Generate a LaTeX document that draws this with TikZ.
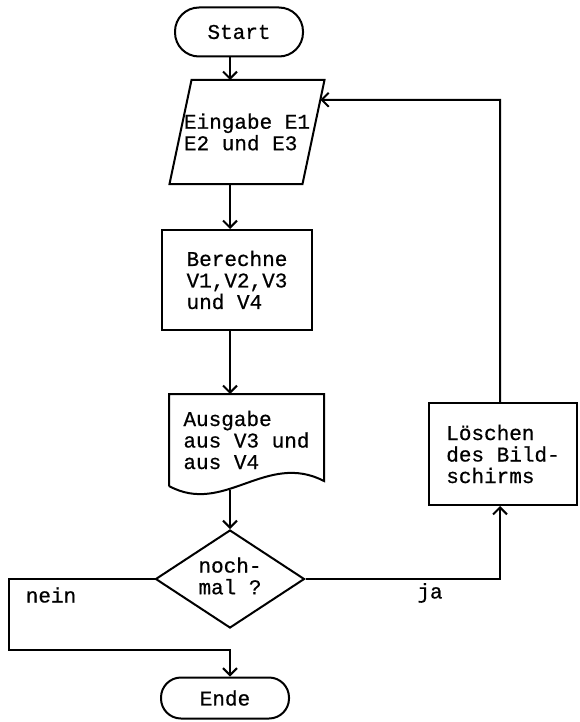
\documentclass[tikz,border=0pt]{standalone}
\usepackage{fontspec}
\setmonofont{Liberation Mono}[FakeBold=0.6]
\newcommand{\flowfont}{\ttfamily\fontsize{21}{21.5}\selectfont}
\usetikzlibrary{calc, shapes.geometric, arrows.meta}

\begin{document}
\begin{tikzpicture}[x=1pt, y=-1pt, line width=2pt, >={Straight Barb[length=7pt,width=14pt]}]
	\tikzset{term/.style={draw=black, rounded corners=#1, minimum width=128pt, inner sep=0pt, font=\flowfont}}
	\tikzset{proc/.style={draw=black, align=left, inner sep=0pt, font=\flowfont}}
	\tikzset{bare/.style={align=left, inner sep=0pt, font=\flowfont}}
	\tikzset{decision/.style={diamond, draw=black, aspect=1.5, inner sep=0pt, minimum width=149pt, minimum height=98pt, font=\flowfont}}
	\useasboundingbox (0,0) rectangle (579,722);
		\coordinate (achse) at (230,0);
		\coordinate (rueck) at (500,100);
		\coordinate (nein_unten) at (9,650);
		\node[term=24pt, minimum height=49pt] (start) at (239,32) {Start};
		\node[bare, minimum width=131pt, minimum height=102pt] (eingabe) at (247,132) {Eingabe E1\\E2 und E3};
		\node[proc, minimum width=150pt, minimum height=100pt] (berechne) at (237,280) {Berechne\\V1,V2,V3\\und V4};
		\node[bare, minimum width=153pt, minimum height=90pt] (ausgabe) at (246.5,440) {Ausgabe\\aus V3 und\\aus V4};
		\node[decision] (frage) at (230,579) {\raisebox{-5pt}{\begin{tabular}{@{}l@{}}noch-\\mal ?\end{tabular}}};
		\node[term=20pt, minimum height=41pt] (ende) at (225,698) {Ende};
		\node[proc, minimum width=148pt, minimum height=102pt] (loeschen) at (503,454) {L\"oschen\\des Bild-\\schirms};
		% outlines
		\draw ([xshift=11pt]eingabe.north west) -- ([xshift=11pt]eingabe.north east) -- ([xshift=-11pt]eingabe.south east) -- ([xshift=-11pt]eingabe.south west) -- cycle;
		\coordinate (eingabe_rechts) at ($([xshift=11pt]eingabe.north east)!0.19!([xshift=-11pt]eingabe.south east)$);
		\draw (ausgabe.south west) -- (ausgabe.north west) -- (ausgabe.north east) -- ([yshift=5pt]ausgabe.south east) .. controls +(-58,-30) and +(55,30) .. (ausgabe.south west);
		% connectors
		\draw[->] (achse |- start.south) -- (achse |- eingabe.north);
		\draw[->] (achse |- eingabe.south) -- (achse |- berechne.north);
		\draw[->] (achse |- berechne.south) -- (achse |- ausgabe.north);
		\draw[->] ($(achse |- ausgabe.south)+(0,4)$) -- (frage.north);
		\draw[->] (frage.west) -| (nein_unten) -| (achse |- ende.north);
		\draw[->] (frage.east) -| (rueck |- loeschen.south);
		\draw[->] (rueck |- loeschen.north) -- (rueck) -- (eingabe_rechts);
		% labels
		\node[bare] (nein) at (51,595) {nein};
		\node[bare] (ja) at (430,593) {ja};
	\end{tikzpicture}
\end{document}
